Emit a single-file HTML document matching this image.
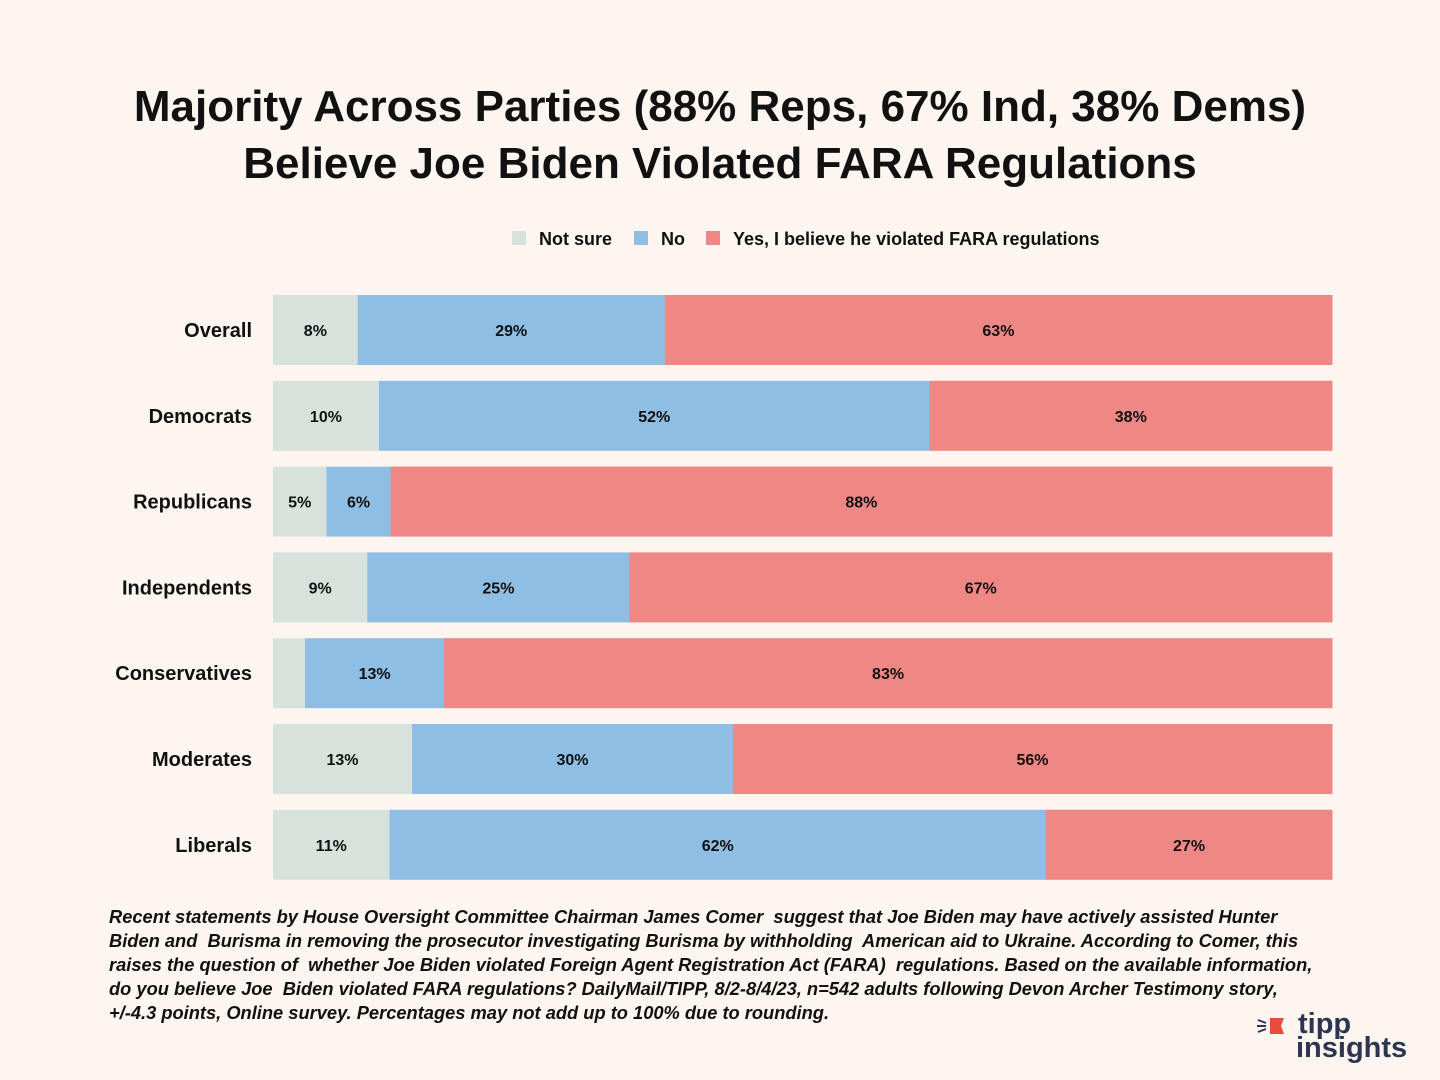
<!DOCTYPE html>
<html><head><meta charset="utf-8"><style>
body{margin:0;background:#fdf6f0;font-family:"Liberation Sans",sans-serif;}
#wrap{position:relative;width:1440px;height:1080px;overflow:hidden;background:#fdf6f0;}
.title{position:absolute;left:0;width:1440px;text-align:center;font-weight:bold;font-size:44px;color:#111;}
.foot{position:absolute;left:109px;top:905px;width:1300px;font-style:italic;font-weight:bold;font-size:18.3px;line-height:24px;color:#111;white-space:nowrap;}
</style></head><body>
<div id="wrap">
<div class="title" style="top:82px">Majority Across Parties (88% Reps, 67% Ind, 38% Dems)</div>
<div class="title" style="top:139px">Believe Joe Biden Violated FARA Regulations</div>
<svg id="chart" width="1440" height="900" style="position:absolute;left:0;top:0"></svg>
<div class="foot">Recent statements by House Oversight Committee Chairman James Comer&nbsp; suggest that Joe Biden may have actively assisted Hunter<br>Biden and&nbsp; Burisma in removing the prosecutor investigating Burisma by withholding&nbsp; American aid to Ukraine. According to Comer, this<br>raises the question of&nbsp; whether Joe Biden violated Foreign Agent Registration Act (FARA)&nbsp; regulations. Based on the available information,<br>do you believe Joe&nbsp; Biden violated FARA regulations? DailyMail/TIPP, 8/2-8/4/23, n=542 adults following Devon Archer Testimony story,<br>+/-4.3 points, Online survey. Percentages may not add up to 100% due to rounding.</div>
<div style="position:absolute;left:1256px;top:1012px;width:150px;height:56px;">
<svg width="40" height="30" style="position:absolute;left:0;top:4px"><path d="M14 2h14l-3 8 3 8H14z" fill="#e84c3d"/><path d="M2 4l8 3M1 10h9M2 16l8-3" stroke="#2e3550" stroke-width="2"/></svg>
<div style="position:absolute;left:42px;top:-4px;font-weight:bold;font-size:29px;color:#2e3550;">tipp</div>
<div style="position:absolute;left:40px;top:20px;font-weight:bold;font-size:29px;color:#2e3550">insights</div>
</div>
</div>
<script>
const categories=["Overall","Democrats","Republicans","Independents","Conservatives","Moderates","Liberals"];
const notSure=[8,10,5,9,3,13,11];
const no=[29,52,6,25,13,30,62];
const yes=[63,38,88,67,83,56,27];
const seriesNames=["Not sure","No","Yes, I believe he violated FARA regulations"];
const colors=["#d8e2dc","#8ebee3","#ef8785"];
const svg=document.getElementById('chart');const NS="http://www.w3.org/2000/svg";
const x0=273,x1=1332,top0=295,pitch=85.8,bh=70;
function xs(v,total){return (x1-x0)*v/total;}
function yRow(i){return top0+i*pitch;}
function mk(t,a){const e=document.createElementNS(NS,t);for(const k in a)e.setAttribute(k,a[k]);svg.appendChild(e);return e;}
const lx=[512,634,706];
seriesNames.forEach((n,j)=>{
 const r=mk('rect',{x:lx[j],y:231,width:14,height:14,fill:colors[j]});
 
 
 const t=mk('text',{x:lx[j]+27,y:245,'font-size':18,'font-weight':'bold',fill:'#111','font-family':'Liberation Sans'});
 t.textContent=n;
 
 
});
categories.forEach((c,i)=>{
 const y=yRow(i);const vals=[notSure[i],no[i],yes[i]];const tot=vals[0]+vals[1]+vals[2];
 const lab=mk('text',{x:252,y:y+bh/2+7,'text-anchor':'end','font-size':20,'font-weight':'bold',fill:'#111','font-family':'Liberation Sans'});
 lab.textContent=c;
 
 
 let x=x0;
 vals.forEach((v,j)=>{
  const w=xs(v,tot);
  const r=mk('rect',{x:x,y:y,width:w+0.5,height:bh,fill:colors[j]});
  
  
  if(v>=5){
   const t=mk('text',{x:x+w/2,y:y+bh/2+6,'text-anchor':'middle','font-size':16,'font-weight':'bold',fill:'#111','font-family':'Liberation Sans'});
   t.textContent=v+'%';
   
   
  }
  x+=w;
 });
});
</script>
</body></html>
